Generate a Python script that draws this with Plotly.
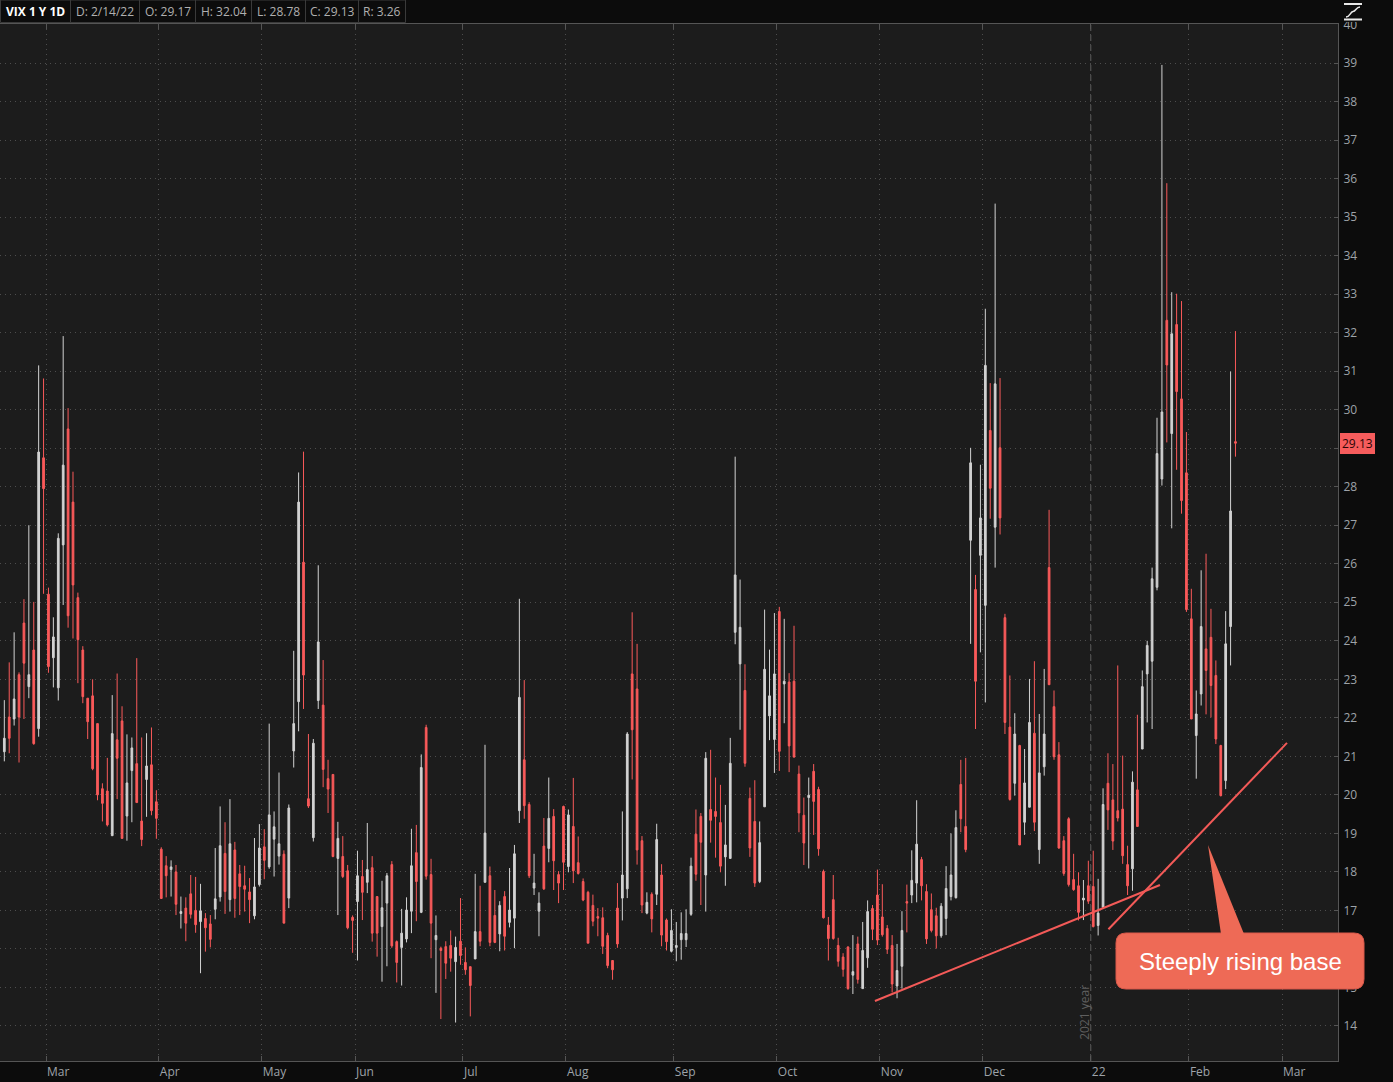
import plotly.graph_objects as go

# ---------------- data (VIX daily, Feb 2021 - Feb 14 2022) ----------------
opens = [21.12, 22.02, 21.97, 23.12, 24.46, 22.81, 23.76, 21.72, 28.75, 25.21,
         23.56, 22.78, 26.49, 29.50, 27.60, 25.12, 23.76, 22.51, 22.57, 21.85,
         20.16, 20.10, 18.94, 21.43, 21.92, 19.45, 20.63, 20.81, 19.32, 20.40,
         20.78, 19.82, 18.59, 18.16, 18.06, 18.00, 16.92, 17.06, 17.43, 17.00,
         16.71, 16.79, 16.65, 17.03, 17.35, 18.48, 17.28, 18.57, 17.95, 17.64,
         17.48, 16.86, 17.67, 18.65, 18.13, 18.85, 18.41, 18.46, 17.32, 21.14,
         22.42, 26.04, 19.90, 18.89, 22.45, 22.33, 20.42, 20.53, 18.35, 18.40,
         18.03, 16.82, 17.23, 17.88, 17.73, 18.11, 17.36, 16.58, 17.19, 18.19,
         16.19, 16.04, 16.26, 16.98, 18.50, 16.95, 21.75, 17.93, 16.24, 16.02,
         16.06, 16.09, 15.67, 16.20, 15.65, 15.54, 15.74, 16.45, 17.73, 17.90,
         16.87, 16.39, 17.36, 16.69, 16.80, 19.59, 20.91, 19.75, 17.58, 16.98,
         18.67, 18.61, 19.44, 17.93, 19.70, 18.14, 19.18, 18.24, 17.75, 17.47,
         17.13, 16.84, 16.81, 16.35, 15.70, 17.06, 17.32, 17.56, 23.14, 22.75,
         18.81, 16.93, 17.42, 17.42, 17.92, 16.75, 15.94, 16.04, 16.24, 16.24,
         16.90, 18.98, 19.44, 17.92, 19.62, 19.57, 19.28, 18.39, 18.35, 24.22,
         23.40, 22.71, 19.91, 19.31, 17.75, 19.69, 22.05, 21.44, 24.76, 22.88,
         22.93, 22.95, 20.54, 19.47, 19.93, 20.61, 20.14, 18.01, 16.62, 17.28,
         16.09, 15.79, 16.05, 15.32, 16.13, 14.97, 15.77, 17.05, 17.40, 16.83,
         16.53, 16.09, 15.04, 15.55, 17.23, 17.40, 17.71, 18.32, 17.49, 17.02,
         16.86, 16.34, 16.79, 17.36, 17.33, 20.27, 19.18, 26.61, 25.33, 26.22,
         24.92, 29.46, 26.95, 29.01, 24.60, 21.76, 20.30, 21.28, 19.29, 19.68,
         21.60, 18.58, 20.73, 25.90, 22.29, 21.04, 18.81, 19.38, 17.80, 17.64,
         17.27, 17.64, 17.62, 16.61, 17.08, 20.30, 19.87, 19.59, 19.63, 18.19,
         18.08, 20.13, 21.19, 23.14, 23.47, 25.39, 28.20, 32.32, 29.38, 32.21,
         30.28, 28.36, 24.57, 21.54, 22.62, 23.79, 24.09, 23.10, 21.28, 20.37,
         24.37, 29.17]
highs = [22.46, 23.44, 24.22, 23.18, 25.08, 27.00, 25.01, 31.15, 30.81, 25.38,
         24.61, 26.79, 31.91, 30.04, 28.39, 25.25, 23.86, 22.51, 23.00, 21.85,
         20.30, 20.96, 22.59, 23.15, 22.30, 21.57, 21.49, 23.55, 21.49, 21.60,
         21.75, 20.12, 18.64, 18.41, 18.30, 18.18, 17.36, 17.34, 17.92, 17.87,
         17.69, 16.93, 16.88, 18.62, 19.70, 19.29, 19.89, 18.78, 18.18, 18.16,
         17.84, 18.88, 19.24, 19.11, 21.85, 19.57, 20.58, 18.56, 19.75, 23.74,
         28.37, 28.91, 21.58, 21.45, 25.96, 23.50, 20.91, 20.53, 19.30, 18.93,
         18.18, 16.87, 18.55, 18.31, 19.27, 18.41, 17.36, 17.77, 17.97, 18.28,
         16.22, 17.04, 17.34, 19.12, 19.22, 21.05, 21.82, 18.34, 16.87, 16.06,
         16.20, 16.48, 16.32, 17.32, 16.04, 15.54, 17.95, 17.64, 21.30, 18.14,
         17.53, 17.24, 17.50, 18.10, 18.70, 25.09, 22.98, 19.81, 18.47, 17.47,
         19.40, 20.45, 19.63, 18.02, 19.72, 19.62, 20.44, 18.92, 17.83, 17.51,
         17.41, 17.06, 17.08, 16.42, 15.71, 17.71, 19.57, 21.63, 24.74, 23.92,
         18.93, 17.47, 17.47, 19.25, 18.20, 16.79, 17.03, 16.70, 16.95, 17.03,
         18.37, 19.62, 19.53, 21.11, 21.17, 20.45, 20.26, 19.74, 21.48, 28.78,
         25.59, 23.39, 20.19, 20.38, 19.31, 24.81, 23.77, 24.72, 24.88, 24.57,
         23.16, 24.39, 20.76, 19.93, 20.45, 20.80, 20.21, 18.06, 16.83, 17.92,
         16.29, 15.89, 16.07, 16.36, 16.32, 16.70, 17.26, 17.14, 18.06, 17.68,
         16.62, 16.36, 16.13, 16.98, 17.67, 18.56, 19.86, 18.39, 17.68, 17.44,
         17.07, 17.19, 18.15, 19.00, 19.60, 20.91, 20.96, 29.01, 25.71, 28.57,
         32.62, 30.69, 35.35, 30.82, 24.70, 23.10, 22.12, 21.30, 21.19, 23.01,
         23.47, 22.10, 23.27, 27.40, 22.71, 21.37, 18.93, 19.42, 18.47, 17.99,
         17.79, 18.29, 18.55, 17.82, 20.17, 21.08, 20.80, 23.36, 21.02, 18.68,
         20.61, 22.08, 23.23, 24.00, 25.90, 29.79, 38.95, 35.88, 33.05, 33.01,
         32.82, 29.42, 25.35, 22.71, 25.83, 26.26, 24.83, 23.49, 21.30, 24.77,
         30.99, 32.04]
lows = [20.87, 21.08, 21.80, 20.84, 21.97, 22.51, 21.30, 21.51, 25.22, 23.17,
        22.79, 22.45, 24.93, 24.34, 24.06, 22.90, 22.38, 21.45, 20.64, 19.86,
        19.31, 19.18, 18.94, 19.89, 18.87, 18.81, 19.29, 19.80, 18.67, 19.43,
        19.47, 18.86, 17.31, 17.34, 17.36, 16.88, 16.53, 16.20, 16.79, 16.42,
        15.37, 15.93, 16.04, 16.77, 17.23, 16.91, 16.97, 16.81, 16.88, 16.97,
        16.67, 16.77, 17.62, 17.81, 18.08, 17.88, 18.19, 16.67, 17.06, 20.71,
        21.65, 22.23, 19.66, 18.79, 22.23, 20.20, 19.53, 18.38, 16.88, 17.84,
        16.51, 15.90, 15.70, 16.75, 17.45, 16.19, 15.80, 15.15, 15.55, 16.03,
        15.13, 15.05, 16.17, 16.41, 16.72, 16.93, 17.80, 15.76, 14.86, 14.18,
        15.22, 15.41, 14.09, 15.59, 15.33, 14.25, 15.74, 16.07, 17.73, 16.07,
        16.15, 15.94, 15.96, 16.56, 16.02, 19.27, 19.38, 17.84, 17.40, 16.33,
        17.53, 18.25, 17.53, 17.19, 17.53, 17.99, 17.71, 17.93, 17.24, 16.15,
        16.59, 16.33, 15.87, 15.50, 15.20, 16.03, 16.74, 17.32, 20.40, 18.19,
        16.93, 16.90, 16.43, 17.14, 16.07, 15.96, 15.91, 15.68, 15.72, 16.05,
        16.86, 17.77, 17.14, 16.97, 18.76, 18.37, 17.99, 17.64, 18.35, 23.91,
        21.69, 20.73, 18.39, 17.61, 17.71, 19.69, 21.42, 20.57, 20.62, 21.86,
        20.59, 20.97, 19.03, 18.18, 18.09, 18.96, 18.42, 16.79, 15.70, 16.24,
        15.54, 15.28, 14.94, 14.83, 15.10, 14.97, 15.51, 16.23, 16.10, 16.32,
        15.87, 14.87, 14.72, 14.97, 16.43, 17.19, 17.21, 17.26, 16.13, 16.43,
        16.01, 16.29, 16.36, 17.26, 17.31, 19.03, 18.51, 23.92, 21.71, 23.70,
        22.40, 27.17, 25.90, 26.76, 21.58, 19.85, 19.98, 18.70, 18.96, 19.68,
        19.06, 18.21, 20.50, 22.86, 20.91, 18.60, 17.90, 17.62, 17.51, 16.74,
        16.75, 17.17, 16.56, 16.35, 17.08, 19.09, 18.57, 19.31, 18.21, 17.40,
        17.51, 19.18, 21.19, 21.88, 21.71, 25.31, 28.03, 29.15, 26.92, 28.44,
        27.30, 24.75, 21.97, 20.42, 22.32, 22.09, 22.01, 21.32, 19.96, 20.15,
        23.36, 28.78]
closes = [21.47, 21.47, 22.49, 22.02, 23.42, 23.12, 21.33, 28.90, 27.95, 23.33,
          24.10, 26.66, 28.56, 24.65, 25.45, 24.03, 22.55, 21.90, 20.68, 20.00,
          19.78, 19.22, 21.59, 20.95, 18.87, 20.31, 21.22, 19.80, 18.84, 20.75,
          19.59, 19.39, 17.31, 17.90, 18.13, 17.16, 16.97, 16.67, 16.90, 16.63,
          16.99, 16.55, 16.25, 17.30, 18.68, 17.49, 18.73, 17.31, 17.62, 17.55,
          17.28, 17.61, 18.62, 18.30, 19.48, 19.17, 18.73, 16.67, 19.66, 21.85,
          27.60, 23.11, 19.71, 21.34, 23.97, 20.66, 20.15, 18.40, 18.87, 17.88,
          16.55, 16.74, 17.90, 17.47, 18.06, 16.41, 16.41, 17.07, 17.90, 16.08,
          15.65, 16.41, 17.01, 18.16, 17.75, 20.71, 17.89, 16.67, 16.35, 15.96,
          15.63, 15.76, 16.04, 15.83, 15.46, 15.05, 16.45, 16.20, 19.01, 16.17,
          16.17, 17.13, 16.33, 17.01, 18.47, 22.53, 19.72, 17.90, 17.71, 17.19,
          17.56, 19.39, 18.29, 17.71, 18.25, 19.48, 18.03, 17.96, 17.27, 16.15,
          16.72, 16.80, 16.07, 15.57, 15.46, 16.13, 17.92, 21.58, 21.69, 18.57,
          17.14, 17.21, 16.78, 18.84, 16.36, 16.19, 16.48, 16.09, 16.40, 16.40,
          18.15, 17.94, 18.77, 20.95, 19.34, 19.44, 18.15, 18.70, 20.82, 25.71,
          24.35, 20.82, 18.62, 17.71, 18.76, 23.26, 22.57, 23.14, 21.13, 22.95,
          21.27, 20.98, 19.53, 18.75, 19.99, 19.83, 18.60, 16.81, 16.27, 16.27,
          15.68, 15.47, 14.97, 15.41, 15.21, 15.96, 16.97, 16.51, 16.23, 16.37,
          15.99, 15.09, 15.44, 16.48, 17.19, 17.78, 18.72, 17.64, 16.26, 16.48,
          16.34, 17.11, 17.57, 17.92, 19.15, 19.38, 18.58, 28.62, 22.95, 27.19,
          31.15, 27.96, 30.67, 27.19, 21.88, 19.88, 21.58, 18.70, 20.31, 21.88,
          19.29, 20.57, 21.58, 22.86, 20.99, 18.62, 17.96, 17.67, 17.54, 16.95,
          17.32, 17.24, 16.58, 16.93, 19.75, 19.61, 18.80, 19.40, 18.42, 17.64,
          20.33, 19.18, 22.81, 23.88, 25.61, 28.86, 29.94, 31.16, 31.97, 30.47,
          27.64, 24.81, 21.97, 22.10, 24.37, 23.23, 22.84, 21.45, 19.98, 23.92,
          27.37, 29.13]

month_labels = ["Mar", "Apr", "May", "Jun", "Jul", "Aug", "Sep", "Oct",
                "Nov", "Dec", "22", "Feb", "Mar"]
month_first_idx = [9, 32, 53, 72, 94, 115, 137, 158, 179, 200, 222, 242, 261]
y_ticks = list(range(14, 41))

header_items = ["D: 2/14/22", "O: 29.17", "H: 32.04", "L: 28.78", "C: 29.13", "R: 3.26"]
last_close = closes[-1]

# ---------------- styling / geometry ----------------
W, H = 1393, 1082
ML, MR, MT, MB = 0, 55, 24, 21
PW, PH = W - ML - MR, H - MT - MB
BG_PAPER = "#0c0c0c"
BG_PLOT = "#1c1c1c"
UP = "#d2d2d2"
DOWN = "#fa5a5a"
GRID = "#4d4d4d"
AXIS = "#555555"
LABEL = "#9ea3a9"
CALLOUT = "#ee6a56"


def px(xp):
    return (xp - ML) / PW


def py(yp):
    return (H - MB - yp) / PH


x = list(range(len(opens)))
tickvals = [i - 0.5 for i in month_first_idx]

fig = go.Figure()
fig.add_trace(go.Candlestick(
    x=x, open=opens, high=highs, low=lows, close=closes,
    increasing=dict(line=dict(color=UP, width=1), fillcolor=UP),
    decreasing=dict(line=dict(color=DOWN, width=1), fillcolor=DOWN),
    whiskerwidth=0, showlegend=False, hoverinfo="skip",
))

shapes = []
# year separator (dashed)
shapes.append(dict(type="line", xref="x", yref="paper",
                   x0=tickvals[10], x1=tickvals[10], y0=0, y1=1,
                   line=dict(color="#5e5e5e", width=1, dash="6px,4px"), layer="below"))
# trend lines
shapes.append(dict(type="line", xref="x", yref="y", x0=177.5, y0=14.65, x1=235.6, y1=17.66,
                   line=dict(color="#f35a58", width=2)))
shapes.append(dict(type="line", xref="x", yref="y", x0=225.1, y0=16.51, x1=261.5, y1=21.35,
                   line=dict(color="#f35a58", width=2)))

# callout box (rounded) + pointer, in paper coords
bx0, bx1, by0, by1, r = 1116, 1364, 933, 989, 10
path = (f"M {px(bx0 + r)} {py(by0)} L {px(bx1 - r)} {py(by0)} "
        f"Q {px(bx1)} {py(by0)} {px(bx1)} {py(by0 + r)} "
        f"L {px(bx1)} {py(by1 - r)} Q {px(bx1)} {py(by1)} {px(bx1 - r)} {py(by1)} "
        f"L {px(bx0 + r)} {py(by1)} Q {px(bx0)} {py(by1)} {px(bx0)} {py(by1 - r)} "
        f"L {px(bx0)} {py(by0 + r)} Q {px(bx0)} {py(by0)} {px(bx0 + r)} {py(by0)} Z")
shapes.append(dict(type="path", xref="paper", yref="paper", path=path,
                   fillcolor=CALLOUT, line=dict(color="#d9584a", width=1)))
tri = (f"M {px(1208)} {py(845)} L {px(1244)} {py(934)} L {px(1221)} {py(934)} Z")
shapes.append(dict(type="path", xref="paper", yref="paper", path=tri,
                   fillcolor=CALLOUT, line=dict(color=CALLOUT, width=0)))

# header boxes
box_edges = [0, 70, 139, 195, 251, 305, 358, 405]
for a, b in zip(box_edges[:-1], box_edges[1:]):
    shapes.append(dict(type="rect", xref="paper", yref="paper",
                       x0=px(a + 0.5), x1=px(b + 0.5), y0=py(22.5), y1=py(0),
                       line=dict(color="#3a3a3a", width=1), fillcolor="rgba(0,0,0,0)"))

# top-right corner cover + icon
shapes.append(dict(type="rect", xref="paper", yref="paper", x0=px(1339), x1=px(1393),
                   y0=py(22), y1=py(0), fillcolor=BG_PAPER, line=dict(width=0)))
shapes.append(dict(type="line", xref="paper", yref="paper", x0=px(1344), x1=px(1362),
                   y0=py(4), y1=py(4), line=dict(color="#e8e8e8", width=2)))
shapes.append(dict(type="line", xref="paper", yref="paper", x0=px(1344), x1=px(1362),
                   y0=py(19.5), y1=py(19.5), line=dict(color="#e8e8e8", width=2)))
shapes.append(dict(type="path", xref="paper", yref="paper",
                   path=(f"M {px(1346)} {py(17)} C {px(1350)} {py(17)} {px(1350)} {py(12)} {px(1353)} {py(11.5)} "
                         f"C {px(1356)} {py(11)} {px(1356)} {py(7)} {px(1360)} {py(7)}"),
                   line=dict(color="#e8e8e8", width=1.5)))

annotations = []
# header texts
annotations.append(dict(xref="paper", yref="paper", x=px(35.5), y=py(12), text="<b>VIX 1 Y 1D</b>",
                        showarrow=False, font=dict(family="Open Sans", size=12, color="#ffffff"),
                        xanchor="center", yanchor="middle"))
for (a, b), t in zip(zip(box_edges[1:-1], box_edges[2:]), header_items):
    annotations.append(dict(xref="paper", yref="paper", x=px((a + b) / 2 + 0.5), y=py(12), text=t,
                            showarrow=False, font=dict(family="Open Sans", size=12, color="#b0b0b0"),
                            xanchor="center", yanchor="middle"))
# last price tag
annotations.append(dict(xref="paper", yref="y", x=px(1340), y=last_close, text=f"{last_close:.2f}",
                        showarrow=False, xanchor="left", yanchor="middle",
                        font=dict(family="Open Sans", size=12, color="#2a0505"),
                        bgcolor="#f65c5c", bordercolor="#f65c5c", borderpad=1))
# year label
annotations.append(dict(xref="x", yref="y", x=tickvals[10] - 1.45, y=14.36, text="2021 year",
                        textangle=-90, showarrow=False,
                        font=dict(family="Open Sans", size=12, color="#5f5f5f")))
# callout text
annotations.append(dict(xref="paper", yref="paper", x=px(1240), y=py(961), text="Steeply rising base",
                        showarrow=False, xanchor="center", yanchor="middle",
                        font=dict(family="Liberation Sans, Arial", size=24, color="#ffffff")))

fig.update_layout(
    width=W, height=H,
    margin=dict(l=ML, r=MR, t=MT, b=MB, pad=0),
    paper_bgcolor=BG_PAPER, plot_bgcolor=BG_PLOT,
    showlegend=False, boxgap=0.5,
    font=dict(family="Open Sans", size=12, color=LABEL),
    shapes=shapes, annotations=annotations,
    xaxis=dict(
        range=[-0.88, 271.9], rangeslider=dict(visible=False),
        tickmode="array", tickvals=tickvals, ticktext=month_labels,
        ticks="inside", ticklen=5, tickcolor=AXIS, tickwidth=1,
        ticklabelposition="outside right",
        showline=True, linecolor=AXIS, linewidth=1, mirror="ticks",
        showgrid=True, gridcolor=GRID, gridwidth=1, griddash="1px,4px",
        zeroline=False, tickfont=dict(family="Open Sans", size=12, color=LABEL),
        fixedrange=True,
    ),
    yaxis=dict(
        range=[13.091, 40.0125], side="right",
        tickmode="array", tickvals=y_ticks, ticktext=[str(v) for v in y_ticks],
        ticks="inside", ticklen=4, tickcolor=AXIS, tickwidth=1,
        showline=True, linecolor=AXIS, linewidth=1,
        showgrid=True, gridcolor=GRID, gridwidth=1, griddash="1px,4px",
        zeroline=False, ticklabelstandoff=2,
        tickfont=dict(family="Open Sans", size=12, color=LABEL),
        fixedrange=True,
    ),
)

fig.write_html("out.html", config={"displayModeBar": False},
               post_script="document.body.style.margin='0';document.body.style.background='#0c0c0c';")
